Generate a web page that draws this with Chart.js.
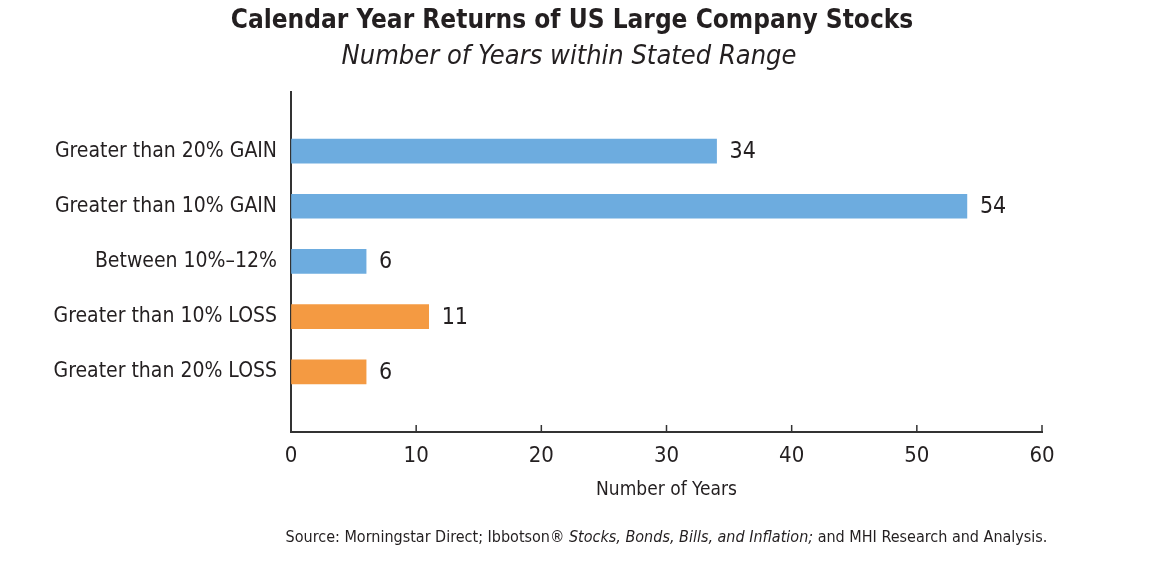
<!DOCTYPE html>
<html><head><meta charset="utf-8">
<script src="https://cdn.jsdelivr.net/npm/chart.js@4"></script>
<style>html,body{margin:0;padding:0;background:#fff}#wrap{width:1166px;height:562px}</style>
</head><body><div id="wrap"><canvas id="c" width="1166" height="562"></canvas></div>
<script>
const categories = ["Greater than 20% GAIN", "Greater than 10% GAIN", "Between 10%\u201312%", "Greater than 10% LOSS", "Greater than 20% LOSS"];
const years = [34, 54, 6, 11, 6];
const barColors = ["#6DACDF", "#6DACDF", "#6DACDF", "#F49A42", "#F49A42"];
const xTicks = [0, 10, 20, 30, 40, 50, 60];
const titleText = "Calendar Year Returns of US Large Company Stocks";
const subtitleText = "Number of Years within Stated Range";
const xTitleText = "Number of Years";
const sourceParts = [["Source: Morningstar Direct; Ibbotson\u00AE ", false], ["Stocks, Bonds, Bills, and Inflation;", true], [" and MHI Research and Analysis.", false]];

const FONT = '"Liberation Sans Narrow","DejaVu Sans Condensed","Roboto Condensed",sans-serif';
const INK = '#231f20';

const overlay = {
  id: 'overlay',
  afterDraw(chart) {
    const ctx = chart.ctx;
    const xs = chart.scales.x;
    ctx.save();
    ctx.fillStyle = INK;
    ctx.textBaseline = 'middle';
    ctx.textAlign = 'center';
    ctx.font = 'bold 26px ' + FONT;
    ctx.fillText(titleText, 572, 21);
    ctx.font = 'italic 27px ' + FONT;
    ctx.fillText(subtitleText, 569, 57);
    ctx.font = '19px ' + FONT;
    ctx.fillText(xTitleText, (xs.left + xs.right) / 2, 490);
    // source
    let total = 0;
    const widths = sourceParts.map(([t, it]) => { ctx.font = (it ? 'italic ' : '') + '16px ' + FONT; const w = ctx.measureText(t).width; total += w; return w; });
    let sx = (xs.left + xs.right) / 2 - total / 2;
    ctx.textAlign = 'left';
    sourceParts.forEach(([t, it], i) => { ctx.font = (it ? 'italic ' : '') + '16px ' + FONT; ctx.fillText(t, sx, 538); sx += widths[i]; });
    // data labels
    ctx.font = '23px ' + FONT;
    const meta = chart.getDatasetMeta(0);
    meta.data.forEach((bar, i) => { ctx.fillText(String(years[i]), bar.x + 13, bar.y + 1); });
    // inward x ticks
    ctx.strokeStyle = '#333';
    ctx.lineWidth = 1.5;
    xTicks.forEach(v => { if (v === 0) return; const px = xs.getPixelForValue(v); ctx.beginPath(); ctx.moveTo(px, xs.top - 7); ctx.lineTo(px, xs.top); ctx.stroke(); });
    ctx.restore();
  }
};

new Chart(document.getElementById('c'), {
  type: 'bar',
  data: {
    datasets: [{
      data: years.map((v, i) => ({ x: v, y: i + 1 })),
      backgroundColor: barColors,
      barThickness: 24,
      borderWidth: 0
    }]
  },
  options: {
    indexAxis: 'y',
    responsive: false,
    animation: false,
    devicePixelRatio: 1,
    layout: { padding: { top: 92, right: 124, left: 0, bottom: 0 } },
    plugins: { legend: { display: false }, tooltip: { enabled: false } },
    scales: {
      x: {
        type: 'linear', min: 0, max: 60,
        afterBuildTicks: s => { s.ticks = xTicks.map(v => ({ value: v })); },
        afterFit: s => { s.height = 130; },
        grid: { drawOnChartArea: false, drawTicks: false },
        border: { display: true, color: '#333', width: 2 },
        ticks: { padding: 11, color: INK, font: { family: FONT, size: 22 } }
      },
      y: {
        type: 'linear', min: -0.07, max: 6.09, reverse: true, offset: false,
        afterBuildTicks: s => { s.ticks = categories.map((c, i) => ({ value: i + 1 })); },
        afterFit: s => { s.width = 291; },
        ticks: { padding: 14, color: INK, font: { family: FONT, size: 21 }, callback: v => categories[v - 1] },
        grid: { drawOnChartArea: false, drawTicks: false, offset: false },
        border: { display: true, color: '#333', width: 2 }
      }
    }
  },
  plugins: [overlay]
});
</script></body></html>
